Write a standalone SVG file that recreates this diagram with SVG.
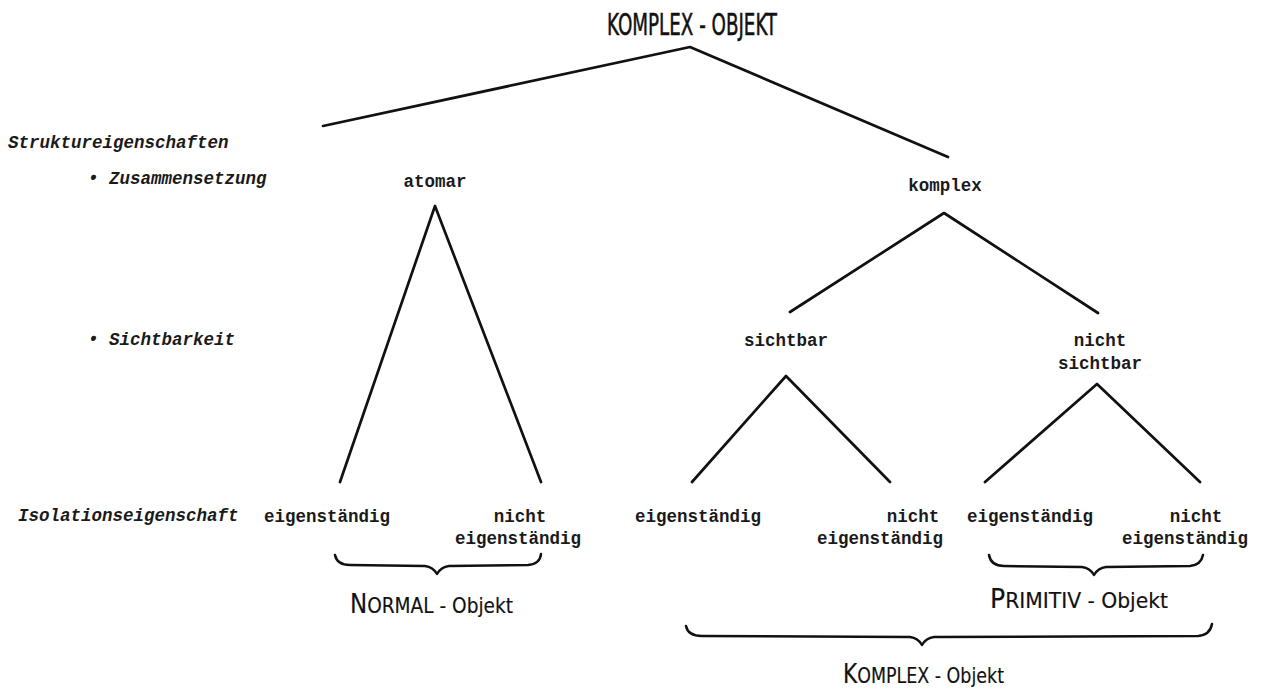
<svg xmlns="http://www.w3.org/2000/svg" width="1263" height="693" viewBox="0 0 1263 693">
  <style>
    .node { font-family: "Liberation Mono", "DejaVu Sans Mono", monospace; font-size: 17.5px; font-weight: bold; fill: #1a1a1a; text-anchor: middle; }
    .side { font-family: "Liberation Mono", "DejaVu Sans Mono", monospace; font-size: 17.5px; font-weight: bold; font-style: italic; fill: #1a1a1a; }
    .title { font-family: "DejaVu Sans Condensed", "Liberation Sans Narrow", sans-serif; font-stretch: condensed; fill: #111; stroke: #111; stroke-width: 0.5; }
    .label { font-family: "DejaVu Sans Condensed", "Liberation Sans Narrow", sans-serif; font-stretch: condensed; fill: #111; stroke: #111; stroke-width: 0.15; }
    .edge { stroke: #111; stroke-width: 2.7; fill: none; stroke-linejoin: round; stroke-linecap: round; }
    .brace { stroke: #111; stroke-width: 2.5; fill: none; stroke-linejoin: round; stroke-linecap: round; }
  </style>
  <rect width="1263" height="693" fill="#ffffff"/>

  <!-- connectors of the tree -->
  <g id="connectors">
    <polyline class="edge" points="323,126 690,47 948,157"/>
    <polyline class="edge" points="340,482 435,206 541,482"/>
    <polyline class="edge" points="790,312 944,213 1098,313"/>
    <polyline class="edge" points="692,482 786,376 890,482"/>
    <polyline class="edge" points="985,482 1097,384 1200,482"/>
  </g>

  <!-- property labels at the left -->
  <g id="properties">
    <text class="side" x="8" y="148">Struktureigenschaften</text>
    <text class="side" x="88" y="184">• Zusammensetzung</text>
    <text class="side" x="88" y="345">• Sichtbarkeit</text>
    <text class="side" x="18" y="521">Isolationseigenschaft</text>
  </g>

  <g id="root">
    <text class="title" x="607" y="35" font-size="30" textLength="170" lengthAdjust="spacingAndGlyphs">KOMPLEX - OBJEKT</text>
  </g>

  <g id="atomar"><text class="node" x="435" y="187">atomar</text></g>
  <g id="komplex"><text class="node" x="945" y="191">komplex</text></g>
  <g id="sichtbar"><text class="node" x="786" y="346">sichtbar</text></g>
  <g id="nicht-sichtbar">
    <text class="node" x="1100" y="346">nicht</text>
    <text class="node" x="1100" y="369">sichtbar</text>
  </g>

  <g id="atomar-eigen"><text class="node" x="327" y="522">eigenständig</text></g>
  <g id="atomar-nicht-eigen">
    <text class="node" x="520" y="522">nicht</text>
    <text class="node" x="518" y="544">eigenständig</text>
  </g>
  <g id="sichtbar-eigen"><text class="node" x="698" y="522">eigenständig</text></g>
  <g id="sichtbar-nicht-eigen">
    <text class="node" x="913" y="522">nicht</text>
    <text class="node" x="880" y="544">eigenständig</text>
  </g>
  <g id="nsichtbar-eigen"><text class="node" x="1030" y="522">eigenständig</text></g>
  <g id="nsichtbar-nicht-eigen">
    <text class="node" x="1196" y="522">nicht</text>
    <text class="node" x="1185" y="544">eigenständig</text>
  </g>

  <!-- grouping braces -->
  <g id="normal-objekt">
    <path class="brace" d="M335,555 Q337,565 350,565 L425,566 Q433,567 437,574 Q441,567 449,566 L528,565 Q540,564 541,554"/>
    <text class="label" x="350" y="613" font-size="21" textLength="163" lengthAdjust="spacingAndGlyphs"><tspan font-size="26">N</tspan>ORMAL - Objekt</text>
  </g>
  <g id="primitiv-objekt">
    <path class="brace" d="M989,555 Q991,566 1004,566 L1082,567 Q1090,568 1094,575 Q1098,568 1106,567 L1190,566 Q1201,565 1203,555"/>
    <text class="label" x="990" y="608" font-size="21" textLength="178" lengthAdjust="spacingAndGlyphs"><tspan font-size="26">P</tspan>RIMITIV - Objekt</text>
  </g>
  <g id="komplex-objekt">
    <path class="brace" d="M686,626 Q688,636 702,636 L910,637 Q918,638 922,645 Q926,638 934,637 L1198,636 Q1210,635 1212,624"/>
    <text class="label" x="843" y="683" font-size="21" textLength="161" lengthAdjust="spacingAndGlyphs"><tspan font-size="26">K</tspan>OMPLEX - Objekt</text>
  </g>
</svg>
